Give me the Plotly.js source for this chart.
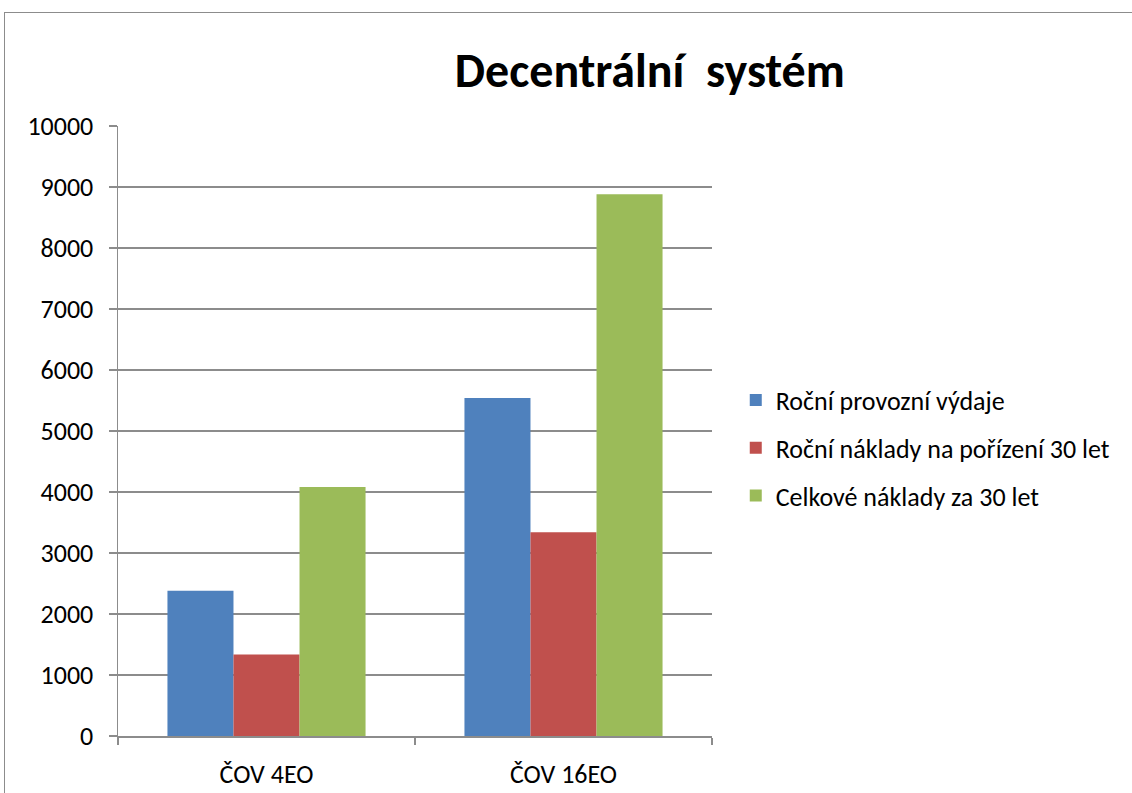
<!DOCTYPE html>
<html>
<head>
<meta charset="utf-8">
<script src="https://cdn.plot.ly/plotly-3.0.1.min.js"></script>
<style>
html, body { margin: 0; padding: 0; background: #fff; }
#frame { position: absolute; left: 4px; top: 12px; width: 1200px; height: 900px; border-left: 1.5px solid #8c8c8c; border-top: 1.5px solid #8c8c8c; box-sizing: border-box; pointer-events: none; z-index: 5; }
#chart { position: absolute; left: 0; top: 0; width: 1132px; height: 793px; }
</style>
</head>
<body>
<div id="chart"></div>
<div id="frame"></div>
<script>
const categories = ["ČOV 4EO", "ČOV 16EO"];
const seriesNames = ["Roční provozní výdaje", "Roční náklady na pořízení 30 let", "Celkové náklady za 30 let"];
const provozniVydaje = [2380, 5540];
const nakladyPorizeni = [1335, 3340];
const celkoveNaklady = [4080, 8880];
const yTickValues = [0, 1000, 2000, 3000, 4000, 5000, 6000, 7000, 8000, 9000, 10000];

const colors = ["#4F81BD", "#C0504D", "#9BBB59"];
const seriesValues = [provozniVydaje, nakladyPorizeni, celkoveNaklady];
const FONT = 'Carlito, "Liberation Sans Narrow", "Open Sans", sans-serif';

const data = seriesValues.map((vals, i) => ({
  type: "bar",
  x: categories,
  y: vals,
  name: seriesNames[i],
  legendgroup: "g" + i,
  marker: { color: colors[i], line: { width: 0 } },
  hoverinfo: "x+y+name"
}));

const layout = {
  width: 1132,
  height: 793,
  paper_bgcolor: "#ffffff",
  plot_bgcolor: "#ffffff",
  margin: { l: 118, r: 420, t: 126, b: 57 },
  barmode: "group",
  bargap: 0.333,
  bargroupgap: 0,
  font: { family: FONT, size: 26, color: "#000000" },
  title: {
    text: "Decentrální  systém",
    font: { family: FONT, size: 48, color: "#000000", weight: "bold" },
    x: 0.574,
    xanchor: "center",
    xref: "container",
    y: 0.912,
    yanchor: "middle",
    yref: "container"
  },
  xaxis: {
    type: "category",
    tickson: "boundaries",
    ticks: "outside",
    ticklen: 7,
    tickcolor: "#8c8c8c",
    tickwidth: 1.5,
    showline: true,
    linecolor: "#8c8c8c",
    linewidth: 1.5,
    showgrid: false,
    zeroline: false,
    ticklabelstandoff: 14,
    tickfont: { family: FONT, size: 26, color: "#000000" }
  },
  yaxis: {
    range: [0, 10000],
    tickvals: yTickValues,
    ticktext: yTickValues.map(String),
    ticks: "outside",
    ticklen: 8,
    tickcolor: "#8c8c8c",
    tickwidth: 1.5,
    showline: true,
    linecolor: "#8c8c8c",
    linewidth: 1.5,
    showgrid: true,
    gridcolor: "#8c8c8c",
    gridwidth: 1.5,
    zeroline: false,
    ticklabelstandoff: 10,
    tickfont: { family: FONT, size: 26, color: "#000000" }
  },
  showlegend: true,
  legend: {
    x: 1.04,
    xanchor: "left",
    y: 0.472,
    yanchor: "middle",
    traceorder: "grouped",
    tracegroupgap: 11,
    bgcolor: "rgba(0,0,0,0)",
    font: { family: FONT, size: 26, color: "#000000" }
  }
};

Plotly.newPlot("chart", data, layout, { displayModeBar: false, staticPlot: true });
</script>
</body>
</html>
